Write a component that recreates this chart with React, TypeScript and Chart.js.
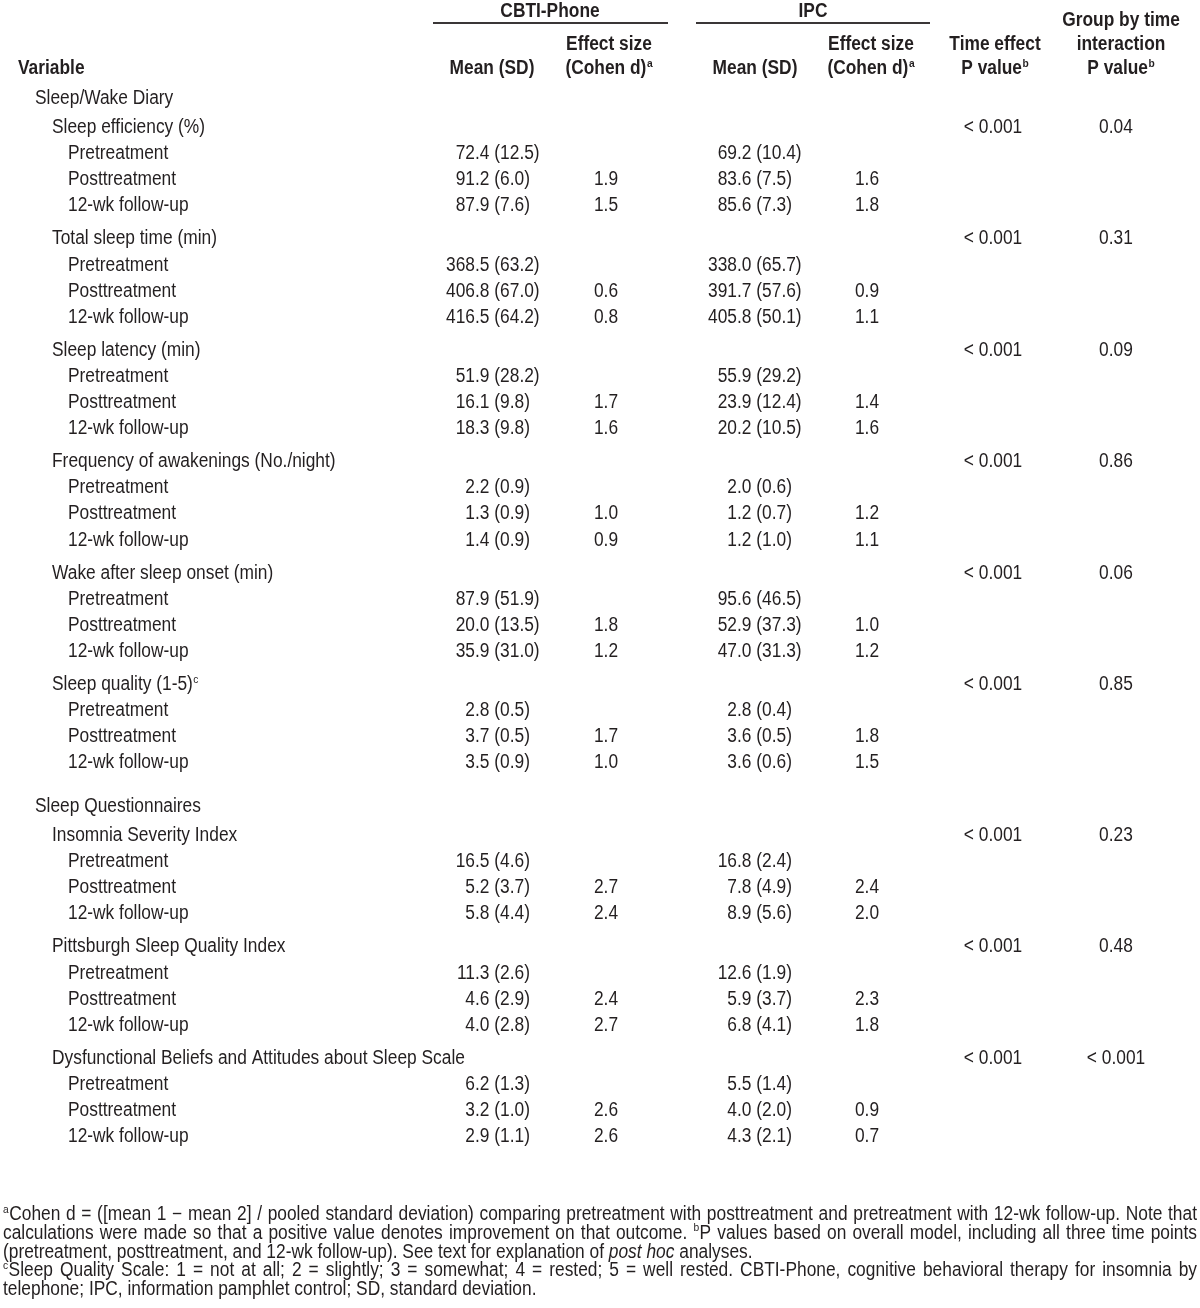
import React, { useEffect, useRef } from 'react';
import { Chart, registerables } from 'chart.js';

Chart.register(...registerables);

// ---------------- DATA ----------------
const groupNames = ['Sleep/Wake Diary', 'Sleep Questionnaires'];
const variableNames = [
  'Sleep efficiency (%)',
  'Total sleep time (min)',
  'Sleep latency (min)',
  'Frequency of awakenings (No./night)',
  'Wake after sleep onset (min)',
  'Sleep quality (1-5)',
  'Insomnia Severity Index',
  'Pittsburgh Sleep Quality Index',
  'Dysfunctional Beliefs and Attitudes about Sleep Scale',
];
const variableSup = ['', '', '', '', '', 'c', '', '', ''];
const variableGroup = [0, 0, 0, 0, 0, 0, 1, 1, 1];
const timePoints = ['Pretreatment', 'Posttreatment', '12-wk follow-up'];

const cbtiMean = [
  [72.4, 91.2, 87.9], [368.5, 406.8, 416.5], [51.9, 16.1, 18.3], [2.2, 1.3, 1.4], [87.9, 20.0, 35.9],
  [2.8, 3.7, 3.5], [16.5, 5.2, 5.8], [11.3, 4.6, 4.0], [6.2, 3.2, 2.9],
];
const cbtiSD = [
  [12.5, 6.0, 7.6], [63.2, 67.0, 64.2], [28.2, 9.8, 9.8], [0.9, 0.9, 0.9], [51.9, 13.5, 31.0],
  [0.5, 0.5, 0.9], [4.6, 3.7, 4.4], [2.6, 2.9, 2.8], [1.3, 1.0, 1.1],
];
const cbtiD = [
  [1.9, 1.5], [0.6, 0.8], [1.7, 1.6], [1.0, 0.9], [1.8, 1.2], [1.7, 1.0], [2.7, 2.4], [2.4, 2.7], [2.6, 2.6],
];
const ipcMean = [
  [69.2, 83.6, 85.6], [338.0, 391.7, 405.8], [55.9, 23.9, 20.2], [2.0, 1.2, 1.2], [95.6, 52.9, 47.0],
  [2.8, 3.6, 3.6], [16.8, 7.8, 8.9], [12.6, 5.9, 6.8], [5.5, 4.0, 4.3],
];
const ipcSD = [
  [10.4, 7.5, 7.3], [65.7, 57.6, 50.1], [29.2, 12.4, 10.5], [0.6, 0.7, 1.0], [46.5, 37.3, 31.3],
  [0.4, 0.5, 0.6], [2.4, 4.9, 5.6], [1.9, 3.7, 4.1], [1.4, 2.0, 2.1],
];
const ipcD = [
  [1.6, 1.8], [0.9, 1.1], [1.4, 1.6], [1.2, 1.1], [1.0, 1.2], [1.8, 1.5], [2.4, 2.0], [2.3, 1.8], [0.9, 0.7],
];
const timeP = ['< 0.001', '< 0.001', '< 0.001', '< 0.001', '< 0.001', '< 0.001', '< 0.001', '< 0.001', '< 0.001'];
const interactionP = ['0.04', '0.31', '0.09', '0.86', '0.06', '0.85', '0.23', '0.48', '< 0.001'];

type Run = { t: string; s?: 'sup' | 'it' };
const footnoteLines: Run[][] = [
  [{ t: 'a', s: 'sup' }, { t: 'Cohen d = ([mean 1 \u2212 mean 2] / pooled standard deviation) comparing pretreatment with posttreatment and pretreatment with 12-wk follow-up. Note that' }],
  [{ t: 'calculations were made so that a positive value denotes improvement on that outcome. ' }, { t: 'b', s: 'sup' }, { t: 'P values based on overall model, including all three time points' }],
  [{ t: '(pretreatment, posttreatment, and 12-wk follow-up). See text for explanation of ' }, { t: 'post hoc', s: 'it' }, { t: ' analyses.' }],
  [{ t: 'c', s: 'sup' }, { t: 'Sleep Quality Scale: 1 = not at all; 2 = slightly; 3 = somewhat; 4 = rested; 5 = well rested. CBTI-Phone, cognitive behavioral therapy for insomnia by' }],
  [{ t: 'telephone; IPC, information pamphlet control; SD, standard deviation.' }],
];
const footnoteJustify = [true, true, false, true, false];

// ---------------- LAYOUT / STYLE ----------------
const W = 1200;
const H = 1308;
const FONT = '"Liberation Sans", Arial, Helvetica, sans-serif';
const SX = 0.89;
const BODY_PX = 19.5;
const SUP_PX = 11.5;
const BASE_OFF = 7;
const SUP_RAISE = 7.5;
const TEXT = '#231f20';

const COL = {
  variable: 18, group: 35, varName: 52, time: 68,
  cbtiMean: 475, cbtiD: 606, ipcMean: 737, ipcD: 867, timeP: 993, intP: 1116,
  cbtiHead: 550, ipcHead: 813, cbtiMeanHead: 492, cbtiDHead: 609, ipcMeanHead: 755, ipcDHead: 871,
  timeHead: 995, intHead: 1121,
};
const ROW_H = 26.1;
const VAR_GAP = 33.1;
const GROUP_GAP = 43.7;
const GROUP_TO_VAR = 29;
const FIRST_Y = 97;
const HEAD_Y = [10, 19, 43, 67];
const RULE_Y = 23;
const RULES = [[433, 668], [696, 930]];
const FOOT_X = [3, 1197];
const FOOT_Y0 = 1213;
const FOOT_DY = 18.8;

type Cell = { text: string; align: 'left' | 'center' | 'decimal'; bold?: boolean; sup?: string };

function fmtMean(m: number, sd: number) {
  return `${m.toFixed(1)} (${sd.toFixed(1)})`;
}

function buildDatasets() {
  const groupY: number[] = [];
  const varY: number[] = [];
  let lastG = -1;
  let lastTimeY = 0;
  variableNames.forEach((_, v) => {
    const g = variableGroup[v];
    let y: number;
    if (g !== lastG) {
      const gy = v === 0 ? FIRST_Y : lastTimeY + GROUP_GAP;
      groupY[g] = gy;
      y = gy + GROUP_TO_VAR;
      lastG = g;
    } else {
      y = lastTimeY + VAR_GAP;
    }
    varY[v] = y;
    lastTimeY = y + 3 * ROW_H;
  });

  const sets: any[] = [];
  const textSet = (pts: { x: number; y: number; cell: Cell }[]) => {
    sets.push({
      data: pts.map((p) => ({ x: p.x, y: p.y })),
      cells: pts.map((p) => p.cell),
      pointRadius: 0,
      pointHoverRadius: 0,
      showLine: false,
    });
  };

  // header
  textSet([
    { x: COL.cbtiHead, y: HEAD_Y[0], cell: { text: 'CBTI-Phone', align: 'center', bold: true } },
    { x: COL.ipcHead, y: HEAD_Y[0], cell: { text: 'IPC', align: 'center', bold: true } },
    { x: COL.intHead, y: HEAD_Y[1], cell: { text: 'Group by time', align: 'center', bold: true } },
    { x: COL.cbtiDHead, y: HEAD_Y[2], cell: { text: 'Effect size', align: 'center', bold: true } },
    { x: COL.ipcDHead, y: HEAD_Y[2], cell: { text: 'Effect size', align: 'center', bold: true } },
    { x: COL.timeHead, y: HEAD_Y[2], cell: { text: 'Time effect', align: 'center', bold: true } },
    { x: COL.intHead, y: HEAD_Y[2], cell: { text: 'interaction', align: 'center', bold: true } },
    { x: COL.variable, y: HEAD_Y[3], cell: { text: 'Variable', align: 'left', bold: true } },
    { x: COL.cbtiMeanHead, y: HEAD_Y[3], cell: { text: 'Mean (SD)', align: 'center', bold: true } },
    { x: COL.cbtiDHead, y: HEAD_Y[3], cell: { text: '(Cohen d)', align: 'center', bold: true, sup: 'a' } },
    { x: COL.ipcMeanHead, y: HEAD_Y[3], cell: { text: 'Mean (SD)', align: 'center', bold: true } },
    { x: COL.ipcDHead, y: HEAD_Y[3], cell: { text: '(Cohen d)', align: 'center', bold: true, sup: 'a' } },
    { x: COL.timeHead, y: HEAD_Y[3], cell: { text: 'P value', align: 'center', bold: true, sup: 'b' } },
    { x: COL.intHead, y: HEAD_Y[3], cell: { text: 'P value', align: 'center', bold: true, sup: 'b' } },
  ]);

  textSet(groupNames.map((g, i) => ({ x: COL.group, y: groupY[i], cell: { text: g, align: 'left' } })));
  textSet(variableNames.map((n, v) => ({ x: COL.varName, y: varY[v], cell: { text: n, align: 'left', sup: variableSup[v] } })));

  const timePts: any[] = [];
  const cMean: any[] = [];
  const iMean: any[] = [];
  const cD: any[] = [];
  const iD: any[] = [];
  variableNames.forEach((_, v) => {
    timePoints.forEach((t, k) => {
      const y = varY[v] + (k + 1) * ROW_H;
      timePts.push({ x: COL.time, y, cell: { text: t, align: 'left' } });
      cMean.push({ x: COL.cbtiMean, y, cell: { text: fmtMean(cbtiMean[v][k], cbtiSD[v][k]), align: 'decimal' } });
      iMean.push({ x: COL.ipcMean, y, cell: { text: fmtMean(ipcMean[v][k], ipcSD[v][k]), align: 'decimal' } });
      if (k > 0) {
        cD.push({ x: COL.cbtiD, y, cell: { text: cbtiD[v][k - 1].toFixed(1), align: 'center' } });
        iD.push({ x: COL.ipcD, y, cell: { text: ipcD[v][k - 1].toFixed(1), align: 'center' } });
      }
    });
  });
  textSet(timePts);
  textSet(cMean);
  textSet(cD);
  textSet(iMean);
  textSet(iD);
  textSet(timeP.map((p, v) => ({ x: COL.timeP, y: varY[v], cell: { text: p, align: 'center' } })));
  textSet(interactionP.map((p, v) => ({ x: COL.intP, y: varY[v], cell: { text: p, align: 'center' } })));

  // header rules
  RULES.forEach(([a, b]) => {
    sets.push({
      data: [{ x: a, y: RULE_Y }, { x: b, y: RULE_Y }],
      showLine: true,
      borderColor: '#3a3637',
      borderWidth: 2,
      pointRadius: 0,
      pointHoverRadius: 0,
    });
  });

  // footnotes (anchor points; text drawn by plugin)
  sets.push({
    data: footnoteLines.map((_, i) => ({ x: FOOT_X[0], y: FOOT_Y0 + i * FOOT_DY })),
    footnotes: footnoteLines,
    justify: footnoteJustify,
    pointRadius: 0,
    pointHoverRadius: 0,
    showLine: false,
  });
  return sets;
}

function setFont(ctx: CanvasRenderingContext2D, size: number, bold?: boolean, italic?: boolean) {
  ctx.font = `${italic ? 'italic ' : ''}${bold ? 'bold ' : ''}${size}px ${FONT}`;
}
function tw(ctx: CanvasRenderingContext2D, s: string) {
  return ctx.measureText(s).width * SX;
}
function drawScaled(ctx: CanvasRenderingContext2D, s: string, x: number, y: number) {
  ctx.save();
  ctx.translate(x, y);
  ctx.scale(SX, 1);
  ctx.fillText(s, 0, 0);
  ctx.restore();
}

function drawCell(ctx: CanvasRenderingContext2D, x: number, y: number, c: Cell) {
  setFont(ctx, BODY_PX, c.bold);
  const mainW = tw(ctx, c.text);
  let supW = 0;
  if (c.sup) {
    setFont(ctx, SUP_PX, c.bold);
    supW = tw(ctx, c.sup) + 0.5;
    setFont(ctx, BODY_PX, c.bold);
  }
  let x0 = x;
  if (c.align === 'center') x0 = x - (mainW + supW) / 2;
  else if (c.align === 'decimal') {
    const idx = c.text.indexOf('.');
    x0 = x - tw(ctx, idx >= 0 ? c.text.slice(0, idx) : c.text);
  }
  const base = y + BASE_OFF;
  drawScaled(ctx, c.text, x0, base);
  if (c.sup) {
    setFont(ctx, SUP_PX, c.bold);
    drawScaled(ctx, c.sup, x0 + mainW + 0.5, base - SUP_RAISE);
  }
}

function runFont(ctx: CanvasRenderingContext2D, s?: string) {
  if (s === 'sup') setFont(ctx, SUP_PX);
  else if (s === 'it') setFont(ctx, BODY_PX, false, true);
  else setFont(ctx, BODY_PX);
}

function drawFootnote(ctx: CanvasRenderingContext2D, x: number, y: number, right: number, runs: Run[], justify: boolean) {
  const words: Run[][] = [[]];
  runs.forEach((r) => {
    const parts = r.t.split(' ');
    parts.forEach((p, i) => {
      if (i > 0) words.push([]);
      if (p.length) words[words.length - 1].push({ t: p, s: r.s });
    });
  });
  const ws = words.filter((w) => w.length);
  const widths = ws.map((w) => w.reduce((acc, r) => { runFont(ctx, r.s); return acc + tw(ctx, r.t) + (r.s === 'sup' ? 0.5 : 0); }, 0));
  setFont(ctx, BODY_PX);
  const natSpace = tw(ctx, ' ');
  const total = widths.reduce((a, b) => a + b, 0);
  const gap = justify && ws.length > 1 ? (right - x - total) / (ws.length - 1) : natSpace;
  const base = y + BASE_OFF;
  let cx = x;
  ws.forEach((w, i) => {
    w.forEach((r) => {
      runFont(ctx, r.s);
      drawScaled(ctx, r.t, cx, r.s === 'sup' ? base - SUP_RAISE : base);
      cx += tw(ctx, r.t) + (r.s === 'sup' ? 0.5 : 0);
    });
    if (i < ws.length - 1) cx += gap;
  });
}

const tablePlugin = {
  id: 'tableText',
  afterDatasetsDraw(chart: any) {
    const ctx: CanvasRenderingContext2D = chart.ctx;
    ctx.save();
    ctx.fillStyle = TEXT;
    ctx.textBaseline = 'alphabetic';
    ctx.textAlign = 'left';
    chart.data.datasets.forEach((ds: any, i: number) => {
      const meta = chart.getDatasetMeta(i);
      if (ds.cells) {
        meta.data.forEach((el: any, j: number) => drawCell(ctx, el.x, el.y, ds.cells[j]));
      } else if (ds.footnotes) {
        const right = chart.scales.x.getPixelForValue(FOOT_X[1]);
        meta.data.forEach((el: any, j: number) => drawFootnote(ctx, el.x, el.y, right, ds.footnotes[j], ds.justify[j]));
      }
    });
    ctx.restore();
  },
};

export default function App() {
  const ref = useRef<HTMLCanvasElement | null>(null);
  useEffect(() => {
    if (!ref.current) return;
    const chart = new Chart(ref.current, {
      type: 'scatter',
      data: { datasets: buildDatasets() },
      options: {
        animation: false,
        responsive: false,
        maintainAspectRatio: false,
        devicePixelRatio: 1,
        events: [],
        layout: { padding: 0 },
        plugins: { legend: { display: false }, tooltip: { enabled: false } },
        scales: {
          x: { type: 'linear', min: 0, max: W, display: false },
          y: { type: 'linear', min: 0, max: H, reverse: true, display: false },
        },
      },
      plugins: [tablePlugin],
    } as any);
    return () => chart.destroy();
  }, []);
  return (
    <div style={{ position: 'absolute', left: 0, top: 0, width: W, height: H, background: '#fff' }}>
      <canvas ref={ref} width={W} height={H} style={{ display: 'block', width: W, height: H }} />
    </div>
  );
}
